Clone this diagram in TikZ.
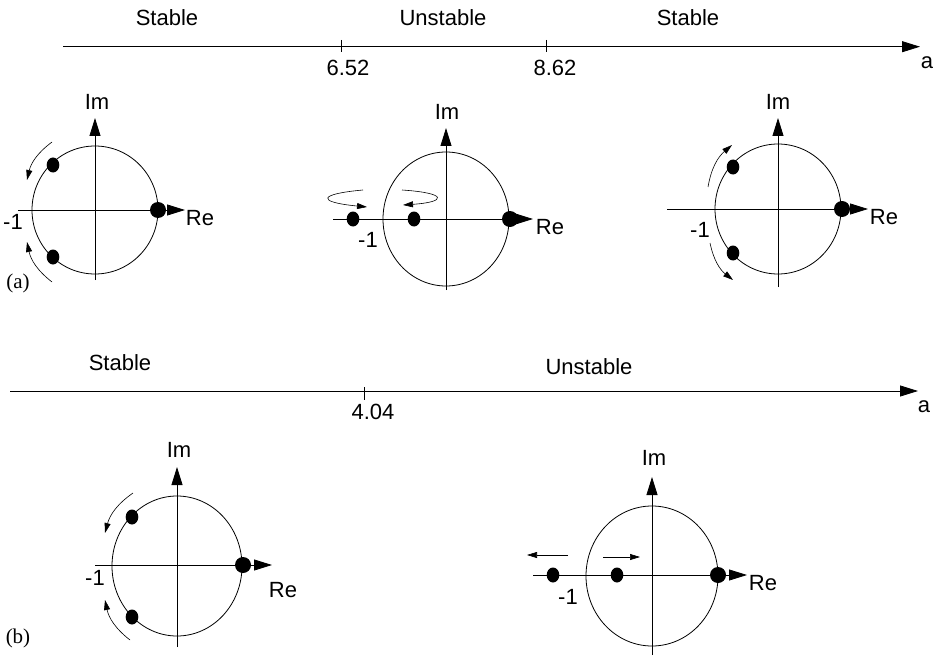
\documentclass[tikz,border=0pt]{standalone}
\usepackage{fontspec}
\setmainfont{Liberation Sans}
\newfontfamily\serifface{Liberation Serif}
\usetikzlibrary{arrows.meta}
\begin{document}
\begin{tikzpicture}[x=1pt,y=-1pt,
  every node/.style={inner sep=0pt,font=\fontsize{22}{24}\selectfont},
  axisline/.style={line width=0.8pt,-{Triangle[length=18pt,width=11pt]}},
  plain/.style={line width=0.8pt},
  unit/.style={line width=0.8pt},
  motion/.style={line width=0.6pt,-{Triangle[length=10pt,width=6pt]}},
  lab/.style={font=\fontsize{22}{24}\selectfont},
  tag/.style={font=\serifface\fontsize{21}{24}\selectfont}]
\useasboundingbox (0,0) rectangle (933,655);

% ---------- top axis ----------
\coordinate (t0) at (63,46.7);
\coordinate (t1) at (920,46.7);
\draw[axisline] (t0) -- (t1);
\draw[plain] (341,40) -- (341,52);
\draw[plain] (546,40) -- (546,52);
\node[lab] (s1) at (167,18) {Stable};
\node[lab] (u1) at (443,18) {Unstable};
\node[lab] (s2) at (688,18) {Stable};
\node[lab] (v1) at (348,68) {6.52};
\node[lab] (v2) at (555,68) {8.62};
\node[lab] (a1) at (927,63) {a};

% ---------- circle 1 ----------
\draw[unit] (95,210) ellipse [x radius=63, y radius=64];
\draw[axisline] (18,210) -- (185,210);
\draw[axisline] (95,280) -- (95,118);
\fill (53,165) ellipse [x radius=6.3, y radius=7.5];
\fill (53,257) ellipse [x radius=6.3, y radius=7.5];
\fill (158,210) circle [radius=8];
\node[lab] at (97,102) {Im};
\node[lab] at (200,218) {Re};
\node[lab] at (13,222) {-1};
\node[tag] at (18,283) {(a)};
\draw[motion] (52,142) to[bend right=20] (27,180);
\draw[motion] (52,282) to[bend left=20] (27,242);

% ---------- circle 2 ----------
\draw[unit] (446,219) ellipse [x radius=63, y radius=67];
\draw[axisline] (333,219) -- (533,219);
\draw[axisline] (446,290) -- (446,128);
\fill (353,219) ellipse [x radius=6.3, y radius=7.5];
\fill (414,219) ellipse [x radius=6.3, y radius=7.5];
\fill (510,219) circle [radius=8];
\node[lab] at (447,112) {Im};
\node[lab] at (550,227) {Re};
\node[lab] at (368,240) {-1};
\draw[motion] (363,190) .. controls (318,194) and (316,202) .. (367,207);
\draw[motion] (402,190) .. controls (448,193) and (447,202) .. (403,205);

% ---------- circle 3 ----------
\draw[unit] (778,209) ellipse [x radius=63, y radius=65];
\draw[axisline] (667,209) -- (868,209);
\draw[axisline] (778,287) -- (778,118);
\fill (733,167) ellipse [x radius=6.3, y radius=7.5];
\fill (733,253) ellipse [x radius=6.3, y radius=7.5];
\fill (842,209) circle [radius=8];
\node[lab] at (778,102) {Im};
\node[lab] at (884,217) {Re};
\node[lab] at (700,230) {-1};
\draw[motion] (708,187) to[bend left=20] (732,145);
\draw[motion] (710,243) to[bend right=20] (733,280);

% ---------- bottom axis ----------
\draw[axisline] (10,391) -- (918,391);
\draw[plain] (364,387) -- (364,400);
\node[lab] at (120,363) {Stable};
\node[lab] at (589,367) {Unstable};
\node[lab] at (373,412) {4.04};
\node[lab] at (924,407) {a};

% ---------- circle 4 ----------
\draw[unit] (177,566) ellipse [x radius=65, y radius=70];
\draw[axisline] (95,565) -- (272,565);
\draw[axisline] (177,647) -- (177,467);
\fill (132,517) ellipse [x radius=6.3, y radius=7.5];
\fill (132,617) ellipse [x radius=6.3, y radius=7.5];
\fill (243,565) circle [radius=8];
\node[lab] at (179,450) {Im};
\node[lab] at (283,590) {Re};
\node[lab] at (95,578) {-1};
\node[tag] at (18,638) {(b)};
\draw[motion] (133,493) to[bend right=20] (105,533);
\draw[motion] (130,640) to[bend left=20] (105,600);

% ---------- circle 5 ----------
\draw[unit] (652,576) ellipse [x radius=66, y radius=70];
\draw[axisline] (533,575) -- (747,575);
\draw[axisline] (652,655) -- (652,477);
\fill (553,575) ellipse [x radius=6.3, y radius=7.5];
\fill (617,575) ellipse [x radius=6.3, y radius=7.5];
\fill (718,575) circle [radius=8];
\node[lab] at (654,458) {Im};
\node[lab] at (763,583) {Re};
\node[lab] at (568,597) {-1};
\draw[motion] (568,555) -- (527,555);
\draw[motion] (603,557) -- (640,557);
\end{tikzpicture}
\end{document}
